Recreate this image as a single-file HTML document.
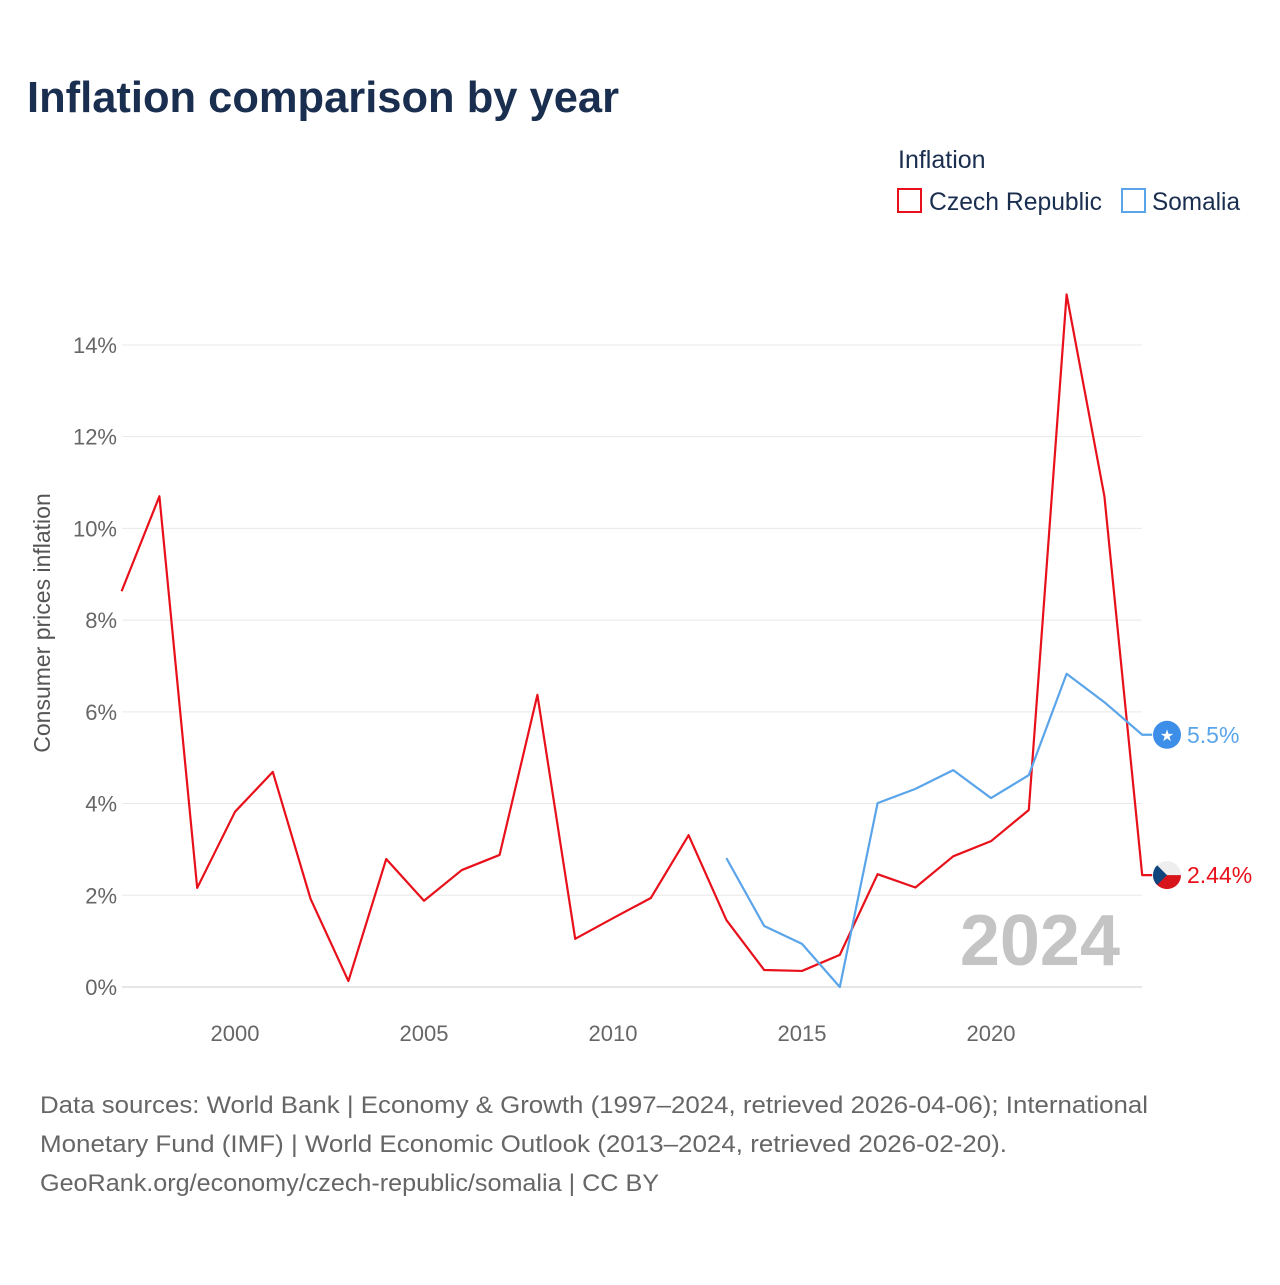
<!DOCTYPE html>
<html><head><meta charset="utf-8"><style>
body{margin:0;background:#fff;width:1280px;height:1280px;overflow:hidden;font-family:"Liberation Sans",sans-serif}
</style></head><body>
<svg width="1280" height="1280" xmlns="http://www.w3.org/2000/svg">
<text x="27" y="112" font-size="44" font-weight="bold" fill="#1a2e4f" textLength="592" lengthAdjust="spacingAndGlyphs">Inflation comparison by year</text>
<text x="898" y="168" font-size="25" fill="#1a2e4f">Inflation</text>
<g><rect x="898" y="189" width="23" height="23" fill="none" stroke="#e8101a" stroke-width="2"/><text x="929" y="210" font-size="25" fill="#1a2e4f" textLength="173" lengthAdjust="spacingAndGlyphs">Czech Republic</text></g>
<g><rect x="1122" y="189" width="23" height="23" fill="none" stroke="#5aa5ea" stroke-width="2"/><text x="1152" y="210" font-size="25" fill="#1a2e4f" textLength="88" lengthAdjust="spacingAndGlyphs">Somalia</text></g>
<g id="grid"></g>
<g id="yt"></g>
<g id="xt"></g>
<text transform="translate(50,623) rotate(-90)" text-anchor="middle" font-size="23" fill="#555">Consumer prices inflation</text>
<text x="1120" y="965" text-anchor="end" font-size="72" font-weight="bold" fill="#c4c4c4">2024</text>
<g id="series"></g>
<text x="40" y="1113" font-size="24" fill="#666" textLength="1108" lengthAdjust="spacingAndGlyphs">Data sources: World Bank | Economy &amp; Growth (1997–2024, retrieved 2026-04-06); International</text>
<text x="40" y="1152" font-size="24" fill="#666" textLength="967" lengthAdjust="spacingAndGlyphs">Monetary Fund (IMF) | World Economic Outlook (2013–2024, retrieved 2026-02-20).</text>
<text x="40" y="1191" font-size="24" fill="#666" textLength="619" lengthAdjust="spacingAndGlyphs">GeoRank.org/economy/czech-republic/somalia | CC BY</text>
</svg>
<script>
const czechYears=[1997,1998,1999,2000,2001,2002,2003,2004,2005,2006,2007,2008,2009,2010,2011,2012,2013,2014,2015,2016,2017,2018,2019,2020,2021,2022,2023,2024];
const czechValues=[8.63,10.7,2.16,3.82,4.69,1.92,0.13,2.79,1.88,2.55,2.88,6.37,1.05,1.5,1.94,3.31,1.46,0.37,0.35,0.7,2.46,2.17,2.85,3.18,3.86,15.1,10.7,2.44];
const somaliaYears=[2013,2014,2015,2016,2017,2018,2019,2020,2021,2022,2023,2024];
const somaliaValues=[2.81,1.33,0.94,0,4.01,4.32,4.73,4.12,4.62,6.83,6.21,5.5];
const yTicks=[0,2,4,6,8,10,12,14];
const xTicks=[2000,2005,2010,2015,2020];
const NS="http://www.w3.org/2000/svg";
const x=y=>235+(y-2000)*37.8;
const yv=v=>987-v*45.86;
function mk(t,a,p){const e=document.createElementNS(NS,t);for(const k in a)e.setAttribute(k,a[k]);p.appendChild(e);return e;}
const grid=document.getElementById('grid'),yt=document.getElementById('yt'),xt=document.getElementById('xt'),ser=document.getElementById('series');
yTicks.forEach(v=>{
 const l=mk('line',{x1:122,x2:1142,y1:yv(v),y2:yv(v),stroke:v===0?'#ccc':'#e8e8e8','stroke-width':1},grid);
 
 
 const t=mk('text',{x:117,y:yv(v)+8,'text-anchor':'end','font-size':22,fill:'#666'},yt);
 t.textContent=v+'%';
 
 
});
xTicks.forEach(v=>{
 const t=mk('text',{x:x(v),y:1041,'text-anchor':'middle','font-size':22,fill:'#666'},xt);
 t.textContent=v;
 
 
});
function line(ys,vs,col,name,label){
 const last=vs[vs.length-1];
 let d=ys.map((y,i)=>(i?'L':'M')+x(y)+','+yv(vs[i])).join(' ')+' L'+(x(ys[ys.length-1])+10)+','+yv(last);
 const p=mk('path',{d:d,fill:'none',stroke:col,'stroke-width':2.2,'stroke-linejoin':'round'},ser);
 
 
 const cy=yv(last);
 const g=mk('g',{},ser);
 
 
 if(name==='somalia'){
  mk('circle',{cx:1167,cy:cy,r:14,fill:'#3d8ee8'},g);
  const s=mk('text',{x:1167,y:cy+6,'text-anchor':'middle','font-size':16,fill:'#fff'},g);
  s.textContent='★';
 } else {
  mk('clipPath',{id:'cz'},g).appendChild(Object.assign(document.createElementNS(NS,'circle'),{})).setAttribute('r',14);
  const cp=g.querySelector('clipPath circle');cp.setAttribute('cx',1167);cp.setAttribute('cy',cy);
  const f=mk('g',{'clip-path':'url(#cz)'},g);
  mk('rect',{x:1153,y:cy-14,width:28,height:14,fill:'#eee'},f);
  mk('rect',{x:1153,y:cy,width:28,height:14,fill:'#d7141a'},f);
  mk('path',{d:`M1153,${cy-14} L1167,${cy} L1153,${cy+14} Z`,fill:'#11457e'},f);
 }
 const t=mk('text',{x:1187,y:cy+8,'font-size':23,fill:col},ser);
 t.textContent=label;
 
 
}
line(czechYears,czechValues,'#e8101a','czech','2.44%');
line(somaliaYears,somaliaValues,'#5aa5ea','somalia','5.5%');
</script>
</body></html>
